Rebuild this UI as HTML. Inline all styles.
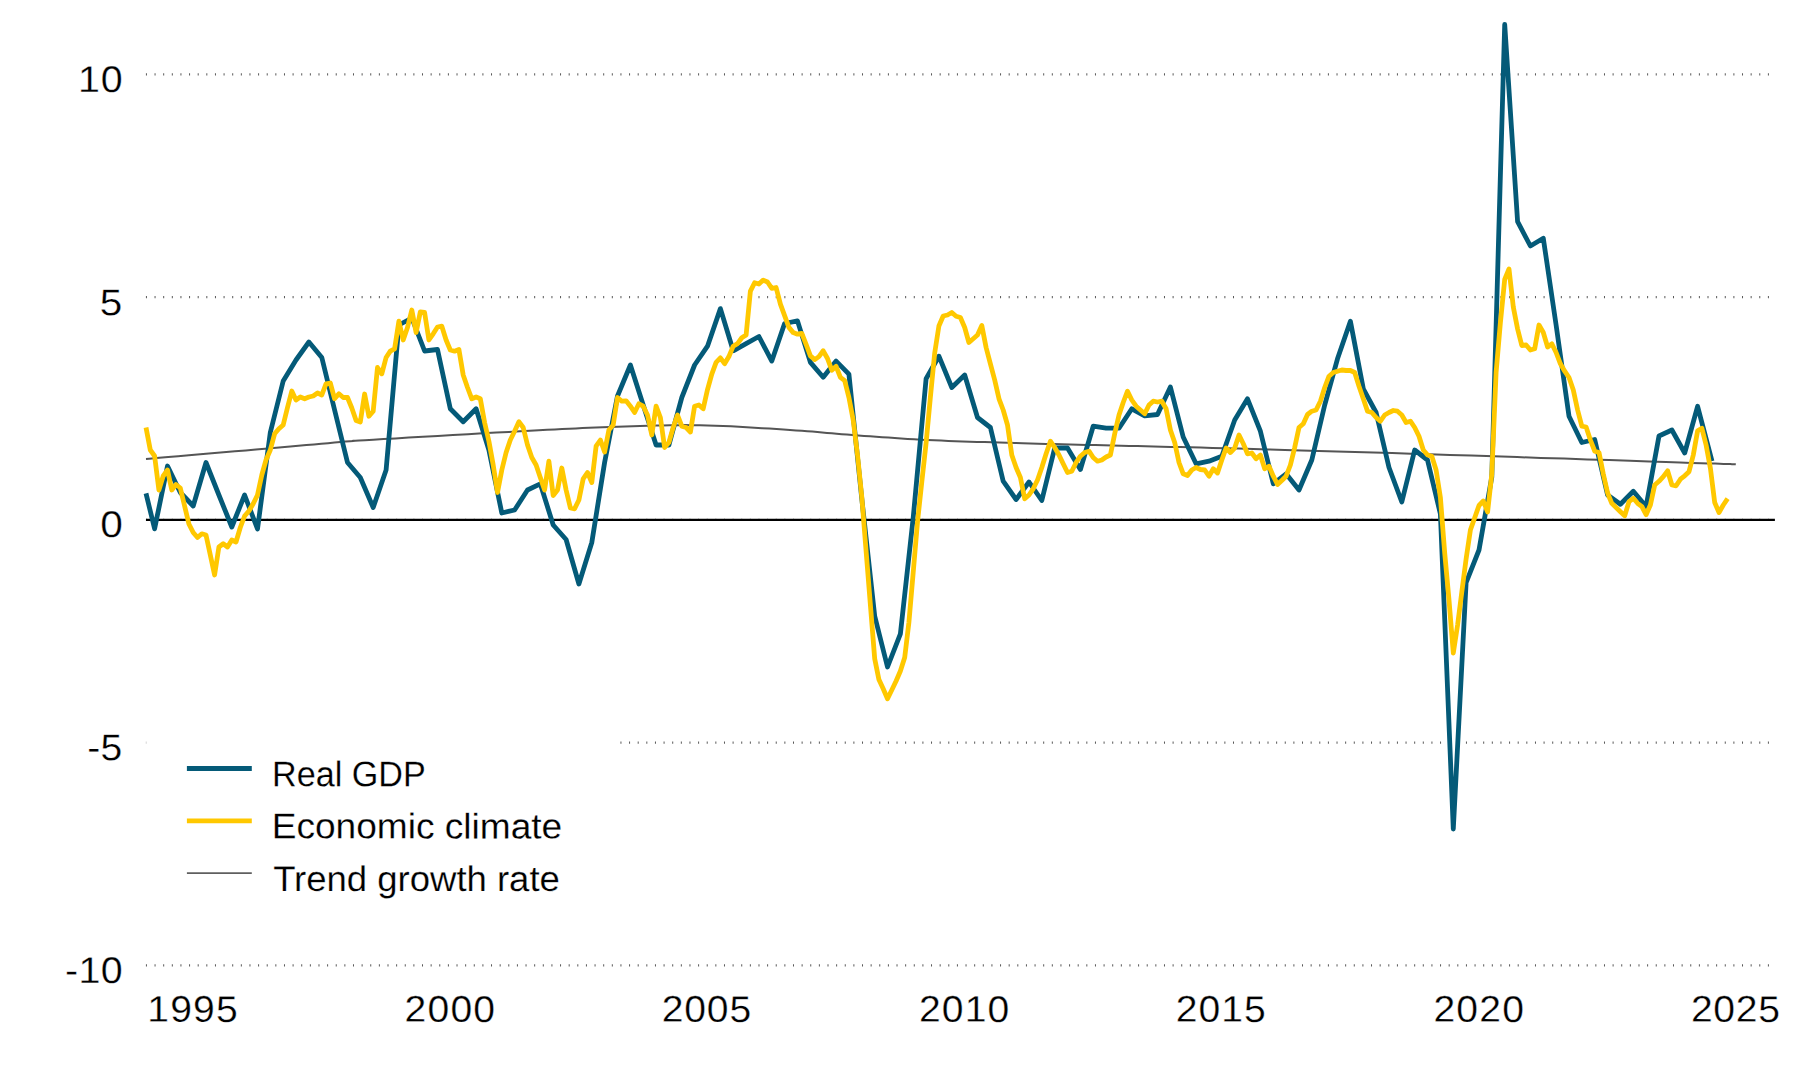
<!DOCTYPE html>
<html lang="en"><head><meta charset="utf-8"><title>Real GDP, economic climate and trend growth rate</title>
<style>
html,body{margin:0;padding:0;background:#fff;}
body{width:1800px;height:1080px;overflow:hidden;}
svg{display:block;}
text{font-family:"Liberation Sans",Arial,Helvetica,sans-serif;fill:#000;stroke:#fff;stroke-width:0.3px;}
text.lg{stroke-width:0.2px;}
</style></head><body>
<svg width="1800" height="1080" viewBox="0 0 1800 1080">
<rect width="1800" height="1080" fill="#fff"/>

<line x1="145.93" y1="74.33" x2="1775" y2="74.33" stroke="#5a5a5a" stroke-width="2.3" stroke-dasharray="1 7.6275"/>
<line x1="145.93" y1="297.08" x2="1775" y2="297.08" stroke="#5a5a5a" stroke-width="2.3" stroke-dasharray="1 7.6275"/>
<line x1="145.93" y1="519.83" x2="1775" y2="519.83" stroke="#5a5a5a" stroke-width="2.3" stroke-dasharray="1 7.6275"/>
<line x1="145.93" y1="742.58" x2="1775" y2="742.58" stroke="#5a5a5a" stroke-width="2.3" stroke-dasharray="1 7.6275"/>
<line x1="145.93" y1="965.33" x2="1775" y2="965.33" stroke="#5a5a5a" stroke-width="2.3" stroke-dasharray="1 7.6275"/>
<rect x="146.2" y="735" width="473.3" height="180" fill="#fff"/>
<line x1="146" y1="519.83" x2="1774.9" y2="519.83" stroke="#000" stroke-width="2.35"/>
<g fill="none" stroke-linejoin="round" stroke-linecap="butt">
<path d="M146.0,458.9 L151.9,458.4 L159.3,457.8 L168.2,457.0 L178.1,456.2 L188.9,455.3 L200.2,454.3 L211.8,453.3 L223.4,452.3 L234.9,451.3 L245.8,450.4 L255.9,449.5 L265.0,448.8 L273.5,448.0 L281.9,447.3 L290.3,446.5 L298.4,445.8 L306.4,445.1 L314.0,444.4 L321.3,443.8 L328.1,443.2 L334.5,442.6 L340.3,442.1 L345.5,441.6 L350.0,441.2 L353.3,441.0 L354.9,440.8 L355.4,440.7 L355.0,440.7 L354.1,440.8 L353.1,440.8 L352.4,440.9 L352.2,440.9 L353.0,440.9 L355.2,440.8 L359.1,440.5 L365.0,440.2 L373.2,439.7 L383.5,439.1 L395.4,438.4 L408.7,437.6 L422.9,436.8 L437.8,435.9 L452.9,435.0 L468.0,434.2 L482.5,433.3 L496.3,432.6 L508.9,431.9 L520.0,431.2 L529.8,430.7 L538.8,430.2 L547.1,429.8 L554.8,429.4 L562.1,429.0 L569.1,428.7 L575.8,428.4 L582.4,428.1 L589.0,427.8 L595.8,427.5 L602.7,427.3 L610.0,427.0 L617.5,426.7 L625.0,426.5 L632.5,426.2 L640.0,426.0 L647.5,425.8 L655.0,425.6 L662.5,425.4 L670.0,425.3 L677.5,425.2 L685.0,425.1 L692.5,425.2 L700.0,425.2 L707.6,425.4 L715.3,425.7 L723.1,426.0 L731.0,426.3 L738.9,426.8 L746.7,427.2 L754.4,427.7 L762.0,428.2 L769.4,428.6 L776.6,429.1 L783.5,429.6 L790.0,430.0 L796.1,430.4 L801.9,430.8 L807.3,431.2 L812.4,431.6 L817.4,432.1 L822.2,432.5 L827.0,432.9 L831.8,433.3 L836.6,433.7 L841.7,434.2 L846.9,434.6 L852.5,435.0 L858.3,435.4 L864.1,435.9 L870.1,436.3 L876.1,436.7 L882.2,437.2 L888.4,437.6 L894.7,438.1 L901.1,438.5 L907.6,438.9 L914.1,439.3 L920.8,439.7 L927.5,440.0 L934.3,440.3 L941.2,440.6 L948.3,440.9 L955.4,441.2 L962.6,441.4 L969.8,441.7 L977.2,441.9 L984.6,442.1 L992.1,442.3 L999.7,442.6 L1007.3,442.8 L1015.0,443.0 L1022.7,443.2 L1030.5,443.4 L1038.3,443.7 L1046.2,443.9 L1054.2,444.1 L1062.2,444.3 L1070.3,444.5 L1078.5,444.7 L1086.8,444.9 L1095.3,445.1 L1103.8,445.3 L1112.5,445.5 L1121.1,445.7 L1129.3,445.9 L1137.4,446.1 L1145.5,446.3 L1153.6,446.5 L1162.0,446.7 L1170.8,446.9 L1180.1,447.1 L1190.0,447.3 L1200.7,447.6 L1212.3,447.9 L1225.0,448.2 L1238.7,448.6 L1253.3,449.0 L1268.7,449.5 L1284.8,449.9 L1301.6,450.4 L1318.9,450.9 L1336.7,451.4 L1354.9,452.0 L1373.4,452.5 L1392.2,453.1 L1411.0,453.7 L1430.0,454.2 L1449.9,454.9 L1471.3,455.6 L1493.9,456.3 L1517.2,457.1 L1540.8,457.9 L1564.3,458.6 L1587.3,459.4 L1609.4,460.1 L1630.1,460.8 L1649.1,461.5 L1665.8,462.0 L1680.0,462.5 L1691.6,462.9 L1701.2,463.2 L1708.9,463.4 L1715.1,463.6 L1719.8,463.8 L1723.5,463.9 L1726.3,464.0 L1728.5,464.1 L1730.3,464.1 L1732.0,464.2 L1733.7,464.2 L1735.8,464.3" stroke="#555" stroke-width="2"/>
<path d="M146.0,493.4 L154.6,528.8 L167.5,466.0 L180.3,492.5 L193.2,506.0 L206.0,462.5 L218.9,495.0 L231.8,527.0 L244.6,495.0 L257.5,529.0 L270.3,432.5 L283.2,381.0 L296.0,360.0 L308.9,342.0 L321.8,357.5 L334.6,410.0 L347.5,462.5 L360.3,477.5 L373.2,507.5 L386.1,470.0 L398.9,325.0 L411.8,318.0 L424.6,351.0 L437.5,349.5 L450.3,408.8 L463.2,421.8 L476.1,408.8 L488.9,450.0 L501.8,513.0 L514.6,510.0 L527.5,490.0 L540.3,483.8 L553.2,525.0 L566.1,539.5 L578.9,584.0 L591.8,542.5 L604.6,462.5 L617.5,396.0 L630.4,365.0 L643.2,405.0 L656.1,445.0 L668.9,445.0 L681.8,397.5 L694.6,365.0 L707.5,346.2 L720.4,308.6 L733.2,350.8 L746.1,343.6 L758.9,336.5 L771.8,361.1 L784.6,323.5 L797.5,320.9 L810.4,362.4 L823.2,377.3 L836.1,361.1 L848.9,374.1 L861.8,498.8 L874.7,616.0 L887.5,667.0 L900.4,633.8 L913.2,517.8 L926.1,378.8 L938.9,356.2 L951.8,387.5 L964.7,375.0 L977.5,417.5 L990.4,427.5 L1003.2,481.2 L1016.1,499.5 L1029.0,482.0 L1041.8,500.5 L1054.7,448.0 L1067.5,448.0 L1080.4,469.5 L1093.2,426.2 L1106.1,428.2 L1119.0,428.2 L1131.8,408.8 L1144.7,415.8 L1157.5,414.5 L1170.4,387.0 L1183.2,437.0 L1196.1,463.8 L1209.0,461.2 L1221.8,456.2 L1234.7,420.0 L1247.5,398.8 L1260.4,431.2 L1273.3,483.8 L1286.1,473.8 L1299.0,490.0 L1311.8,460.0 L1324.7,405.0 L1337.5,358.8 L1350.4,321.2 L1363.3,388.8 L1376.1,412.5 L1389.0,467.5 L1401.8,502.0 L1414.7,450.0 L1427.5,460.0 L1440.4,514.0 L1453.3,829.0 L1466.1,582.6 L1479.0,550.0 L1491.8,477.0 L1504.7,24.5 L1517.6,221.7 L1530.4,246.0 L1543.3,238.3 L1556.1,325.0 L1569.0,416.2 L1581.8,442.5 L1594.7,439.5 L1607.6,495.0 L1620.4,504.3 L1633.3,491.3 L1646.1,506.5 L1659.0,436.0 L1671.9,430.0 L1684.7,453.0 L1697.6,406.3 L1712.0,461.2" stroke="#045a78" stroke-width="4.8"/>
<path d="M146.0,427.5 L150.3,450.0 L154.6,456.0 L158.9,490.0 L163.2,476.0 L167.5,470.0 L171.8,490.0 L176.0,484.5 L180.3,488.0 L184.6,506.0 L188.9,524.0 L193.2,532.5 L197.5,537.5 L201.8,533.8 L206.0,535.0 L210.3,555.0 L214.6,575.0 L218.9,547.0 L223.2,543.8 L227.5,547.0 L231.8,540.0 L236.0,542.0 L240.3,527.5 L244.6,516.0 L248.9,511.0 L253.2,503.8 L257.5,495.0 L261.8,475.0 L266.0,460.0 L270.3,450.0 L274.6,433.8 L278.9,428.8 L283.2,425.0 L287.5,407.5 L291.8,391.0 L296.0,400.0 L300.3,397.0 L304.6,398.8 L308.9,397.0 L313.2,396.0 L317.5,393.0 L321.8,395.0 L326.0,383.8 L330.3,383.0 L334.6,398.8 L338.9,393.8 L343.2,397.5 L347.5,397.5 L351.8,408.0 L356.1,420.5 L360.3,422.0 L364.6,394.0 L368.9,416.2 L373.2,411.2 L377.5,367.5 L381.8,373.8 L386.1,357.5 L390.3,351.2 L394.6,348.8 L398.9,321.2 L403.2,340.0 L407.5,327.5 L411.8,310.0 L416.1,332.5 L420.3,312.0 L424.6,312.5 L428.9,340.0 L433.2,333.8 L437.5,327.0 L441.8,326.2 L446.1,340.0 L450.3,350.0 L454.6,351.2 L458.9,349.5 L463.2,375.0 L467.5,387.5 L471.8,398.8 L476.1,397.0 L480.3,398.8 L484.6,422.5 L488.9,441.2 L493.2,465.0 L497.5,492.5 L501.8,470.0 L506.1,452.5 L510.3,440.0 L514.6,431.2 L518.9,421.8 L523.2,427.5 L527.5,445.0 L531.8,457.5 L536.1,465.0 L540.3,477.5 L544.6,490.0 L548.9,461.2 L553.2,495.5 L557.5,490.0 L561.8,468.0 L566.1,490.0 L570.4,508.0 L574.6,508.8 L578.9,500.0 L583.2,478.8 L587.5,472.5 L591.8,482.5 L596.1,446.2 L600.4,440.0 L604.6,452.0 L608.9,430.0 L613.2,425.0 L617.5,397.5 L621.8,401.2 L626.1,400.8 L630.4,406.2 L634.6,412.5 L638.9,403.8 L643.2,406.2 L647.5,415.0 L651.8,435.0 L656.1,406.2 L660.4,417.5 L664.6,447.5 L668.9,442.5 L673.2,427.5 L677.5,415.0 L681.8,426.2 L686.1,427.5 L690.4,432.0 L694.6,406.2 L698.9,405.0 L703.2,408.8 L707.5,389.6 L711.8,374.1 L716.1,362.4 L720.4,357.9 L724.6,363.7 L728.9,356.6 L733.2,346.2 L737.5,343.6 L741.8,337.8 L746.1,334.9 L750.4,291.1 L754.6,282.7 L758.9,284.0 L763.2,280.1 L767.5,282.0 L771.8,288.3 L776.1,287.5 L780.4,304.1 L784.7,315.8 L788.9,327.4 L793.2,332.6 L797.5,334.2 L801.8,333.3 L806.1,344.3 L810.4,355.9 L814.7,359.6 L818.9,356.6 L823.2,350.8 L827.5,358.5 L831.8,370.2 L836.1,366.3 L840.4,377.3 L844.7,380.6 L848.9,397.4 L853.2,420.0 L857.5,455.0 L861.8,497.0 L866.1,551.0 L870.4,605.0 L874.7,658.8 L878.9,679.5 L883.2,688.8 L887.5,698.8 L891.8,690.0 L896.1,681.0 L900.4,671.0 L904.7,657.5 L908.9,622.5 L913.2,572.5 L917.5,522.0 L921.8,482.0 L926.1,443.0 L930.4,397.0 L934.7,353.0 L938.9,326.0 L943.2,316.0 L947.5,315.0 L951.8,312.5 L956.1,316.2 L960.4,317.5 L964.7,327.5 L968.9,342.5 L973.2,338.8 L977.5,335.0 L981.8,325.5 L986.1,347.5 L990.4,363.8 L994.7,380.0 L999.0,398.8 L1003.2,410.0 L1007.5,425.0 L1011.8,455.0 L1016.1,467.5 L1020.4,477.5 L1024.7,498.8 L1029.0,495.0 L1033.2,488.8 L1037.5,480.0 L1041.8,467.5 L1046.1,453.8 L1050.4,441.2 L1054.7,447.5 L1059.0,455.0 L1063.2,463.8 L1067.5,472.5 L1071.8,471.2 L1076.1,462.5 L1080.4,456.2 L1084.7,452.5 L1089.0,451.2 L1093.2,457.5 L1097.5,461.2 L1101.8,460.0 L1106.1,457.0 L1110.4,455.0 L1114.7,433.8 L1119.0,415.0 L1123.2,402.5 L1127.5,391.2 L1131.8,400.0 L1136.1,406.2 L1140.4,410.0 L1144.7,413.8 L1149.0,405.0 L1153.2,401.2 L1157.5,402.0 L1161.8,401.2 L1166.1,408.8 L1170.4,430.0 L1174.7,442.5 L1179.0,462.5 L1183.2,473.8 L1187.5,475.5 L1191.8,470.0 L1196.1,467.5 L1200.4,469.5 L1204.7,470.0 L1209.0,476.2 L1213.3,468.8 L1217.5,473.0 L1221.8,460.0 L1226.1,448.0 L1230.4,452.5 L1234.7,448.0 L1239.0,435.0 L1243.3,443.8 L1247.5,453.8 L1251.8,453.0 L1256.1,458.8 L1260.4,455.0 L1264.7,468.8 L1269.0,466.2 L1273.3,476.2 L1277.5,484.5 L1281.8,480.5 L1286.1,476.2 L1290.4,465.0 L1294.7,447.5 L1299.0,427.5 L1303.3,423.8 L1307.5,414.5 L1311.8,411.2 L1316.1,410.0 L1320.4,401.2 L1324.7,387.5 L1329.0,376.2 L1333.3,372.5 L1337.5,371.2 L1341.8,370.0 L1346.1,370.5 L1350.4,370.5 L1354.7,372.5 L1359.0,386.2 L1363.3,398.8 L1367.5,411.2 L1371.8,412.5 L1376.1,417.5 L1380.4,421.2 L1384.7,415.0 L1389.0,412.5 L1393.3,410.5 L1397.5,411.2 L1401.8,415.0 L1406.1,422.5 L1410.4,421.2 L1414.7,427.5 L1419.0,436.2 L1423.3,450.0 L1427.6,455.0 L1431.8,456.2 L1436.1,470.0 L1440.4,497.5 L1444.7,553.0 L1449.0,600.0 L1453.3,653.0 L1457.6,625.0 L1461.8,592.0 L1466.1,559.0 L1470.4,530.0 L1474.7,517.7 L1479.0,505.5 L1483.3,501.0 L1487.6,512.0 L1491.8,474.0 L1496.1,372.5 L1500.4,322.5 L1504.7,279.5 L1509.0,269.0 L1513.3,307.0 L1517.6,329.0 L1521.8,345.5 L1526.1,345.0 L1530.4,350.0 L1534.7,348.8 L1539.0,325.0 L1543.3,332.5 L1547.6,347.0 L1551.8,343.8 L1556.1,352.5 L1560.4,363.8 L1564.7,371.2 L1569.0,377.5 L1573.3,390.0 L1577.6,410.0 L1581.8,426.2 L1586.1,427.0 L1590.4,440.0 L1594.7,451.2 L1599.0,452.5 L1603.3,474.0 L1607.6,493.0 L1611.8,503.3 L1616.1,507.5 L1620.4,511.7 L1624.7,515.8 L1629.0,501.7 L1633.3,498.3 L1637.6,503.3 L1641.9,506.7 L1646.1,514.7 L1650.4,505.0 L1654.7,485.0 L1659.0,481.3 L1663.3,476.7 L1667.6,470.8 L1671.9,485.0 L1676.1,485.8 L1680.4,479.2 L1684.7,475.8 L1689.0,471.7 L1693.3,455.0 L1697.6,430.8 L1701.9,428.3 L1706.1,445.0 L1710.4,468.3 L1714.7,502.5 L1719.0,512.5 L1723.3,505.0 L1727.6,498.7" stroke="#ffc800" stroke-width="4.8"/>
</g>
<text transform="translate(77.95,92.00) rotate(0.03) scale(1.0600,1)" font-size="37.2" letter-spacing="0.800">10</text>
<text transform="translate(99.83,315.30) rotate(0.03) scale(1.0877,1)" font-size="37.2" letter-spacing="0.000">5</text>
<text transform="translate(100.19,537.00) rotate(0.03) scale(1.0918,1)" font-size="37.2" letter-spacing="0.000">0</text>
<text transform="translate(87.35,760.30) rotate(0.03) scale(1.0500,1)" font-size="37.2" letter-spacing="0.201">-5</text>
<text transform="translate(65.11,983.00) rotate(0.03) scale(1.0600,1)" font-size="37.2" letter-spacing="0.239">-10</text>
<text transform="translate(147.35,1021.85) rotate(0.03) scale(1.0500,1)" font-size="37.2" letter-spacing="1.117">1995</text>
<text transform="translate(404.54,1021.85) rotate(0.03) scale(1.0500,1)" font-size="37.2" letter-spacing="1.167">2000</text>
<text transform="translate(661.71,1021.85) rotate(0.03) scale(1.0500,1)" font-size="37.2" letter-spacing="0.811">2005</text>
<text transform="translate(918.90,1021.85) rotate(0.03) scale(1.0500,1)" font-size="37.2" letter-spacing="1.126">2010</text>
<text transform="translate(1175.73,1021.85) rotate(0.03) scale(1.0500,1)" font-size="37.2" letter-spacing="1.024">2015</text>
<text transform="translate(1433.40,1021.85) rotate(0.03) scale(1.0500,1)" font-size="37.2" letter-spacing="1.138">2020</text>
<text transform="translate(1690.88,1021.85) rotate(0.03) scale(1.0500,1)" font-size="37.2" letter-spacing="0.726">2025</text>
<text class="lg" transform="translate(272.12,786.20) rotate(0.03) scale(0.9584,1)" font-size="35.6" letter-spacing="0.000">Real GDP</text>
<text class="lg" transform="translate(271.76,838.30) rotate(0.03) scale(1.0416,1)" font-size="35.6" letter-spacing="0.000">Economic climate</text>
<text class="lg" transform="translate(273.13,890.95) rotate(0.03) scale(1.0257,1)" font-size="35.6" letter-spacing="0.000">Trend growth rate</text>
<line x1="186.9" y1="768.5" x2="251.8" y2="768.5" stroke="#045a78" stroke-width="4.8"/>
<line x1="186.9" y1="820.8" x2="251.8" y2="820.8" stroke="#ffc800" stroke-width="4.8"/>
<line x1="186.9" y1="873.2" x2="251.8" y2="873.2" stroke="#5f5f5f" stroke-width="1.8"/>
</svg></body></html>
